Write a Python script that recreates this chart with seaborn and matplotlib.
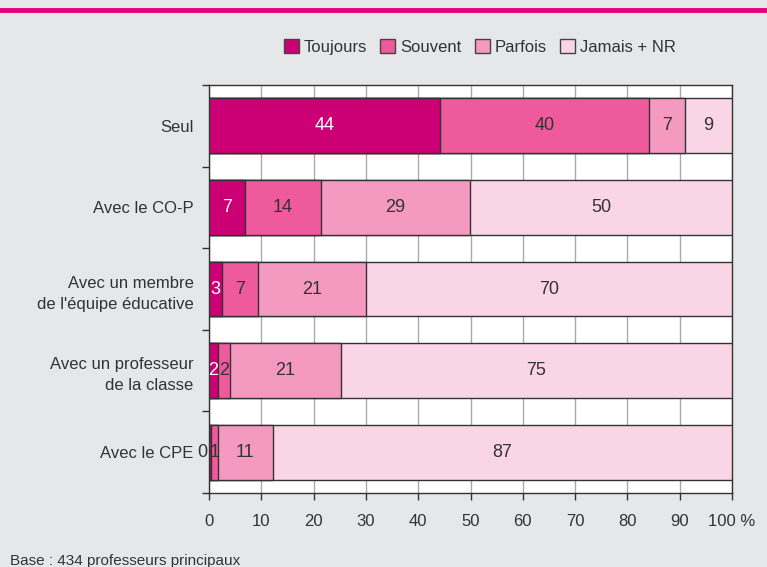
import seaborn as sns
import pandas as pd
import numpy as np
import matplotlib.pyplot as plt
from matplotlib.patches import Patch
from matplotlib.lines import Line2D

# values (segment widths, in %)
categories = ["Seul", "Avec le CO-P", "Avec un membre\nde l'équipe éducative",
              "Avec un professeur\nde la classe", "Avec le CPE"]
series = ["Toujours", "Souvent", "Parfois", "Jamais + NR"]
toujours = [44.2, 6.9, 2.5, 1.7, 0.4]
souvent = [39.9, 14.5, 6.9, 2.3, 1.3]
parfois = [6.9, 28.5, 20.6, 21.2, 10.5]
jamais = [9.0, 50.1, 70.0, 74.8, 87.8]
# printed labels
lab_toujours = ["44", "7", "3", "2", "0"]
lab_souvent = ["40", "14", "7", "2", "1"]
lab_parfois = ["7", "29", "21", "21", "11"]
lab_jamais = ["9", "50", "70", "75", "87"]

colors = ["#cc0074", "#ee5a9c", "#f49ac1", "#f9d5e5"]
bg = "#e6e7e8"

df = pd.DataFrame({"cat": categories, "Toujours": toujours, "Souvent": souvent,
                   "Parfois": parfois, "Jamais + NR": jamais})
cum = df[series].cumsum(axis=1)

sns.set_style("white")
plt.rcParams['font.family'] = ['Liberation Sans', 'DejaVu Sans']
fs = 12

fig = plt.figure(figsize=(7.67, 5.67), dpi=100, facecolor=bg)
ax = fig.add_axes([209 / 767, 1 - 493 / 567, 523 / 767, 408 / 567])
ax.set_facecolor("white")

# stacked bars: draw cumulative totals from the largest down
for s, c in zip(series[::-1], colors[::-1]):
    sns.barplot(x=cum[s], y=df["cat"], color=c, orient="h", width=0.67,
                edgecolor="#333333", linewidth=1, saturation=1, ax=ax, zorder=3)

# segment labels
labels = [lab_toujours, lab_souvent, lab_parfois, lab_jamais]
vals = [toujours, souvent, parfois, jamais]
for j, s in enumerate(series):
    for i in range(len(categories)):
        start = cum[s][i] - vals[j][i]
        mid = start + vals[j][i] / 2
        txtcol = "white" if j == 0 else "#333333"
        ha = "center"
        if j == 0 and vals[j][i] < 1:
            mid = start - 0.4
            ha = "right"
            txtcol = "#333333"
        ax.text(mid, i, labels[j][i], ha=ha, va="center", fontsize=fs + 1,
                color=txtcol, zorder=5)

ax.set_xlim(0, 100)
ax.set_ylim(4.5, -0.5)
ax.set_xticks(range(0, 101, 10))
ax.set_xticklabels([str(v) for v in range(0, 100, 10)] + ["100 %"])
ax.set_yticks(range(len(categories)))
ax.set_yticklabels(categories, linespacing=1.5)
ax.set_yticks(np.arange(-0.5, 5, 1), minor=True)
ax.tick_params(axis="y", which="major", length=0, pad=11, labelsize=fs, labelcolor="#333333")
ax.tick_params(axis="y", which="minor", left=True, length=5, width=1, color="#333333", direction="out")
ax.tick_params(axis="x", bottom=True, length=5, width=1, color="#333333", direction="out",
               pad=10, labelsize=fs, labelcolor="#333333")
ax.set_xlabel("")
ax.set_ylabel("")
ax.grid(axis="x", color="#aaaaaa", linewidth=1, zorder=0)
ax.set_axisbelow(True)
for sp in ax.spines.values():
    sp.set_visible(True)
    sp.set_color("#333333")
    sp.set_linewidth(1)

# pink rule on top
fig.add_artist(Line2D([0, 1], [1 - 10 / 567, 1 - 10 / 567], color="#e6007e", linewidth=3.5))

handles = [Patch(facecolor=c, edgecolor="#444444", linewidth=1, label=s) for s, c in zip(series, colors)]
fig.legend(handles=handles, loc="center", bbox_to_anchor=(480 / 767, 1 - 47 / 567), ncol=4,
           frameon=False, fontsize=fs, handlelength=0.9, handleheight=0.9,
           handletextpad=0.3, columnspacing=0.8, labelcolor="#333333")

fig.text(10 / 767, 1 - 565 / 567, "Base : 434 professeurs principaux", fontsize=11,
         color="#333333", va="baseline")

fig.savefig("out.png", dpi=100, facecolor=bg)
